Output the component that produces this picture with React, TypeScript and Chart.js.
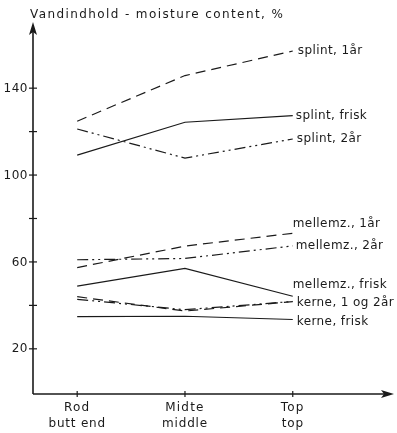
import React, { useEffect, useRef } from "react";
import { Chart, registerables } from "chart.js";

Chart.register(...registerables);

const categories = [
  ["Rod", "butt end"],
  ["Midte", "middle"],
  ["Top", "top"],
];
const yTicks = [20, 40, 60, 80, 100, 120, 140];
const yTickLabels = ["20", "", "60", "", "100", "", "140"];
const yTitle = "Vandindhold - moisture content, %";

const seriesNames = [
  "splint, 1år",
  "splint, frisk",
  "splint, 2år",
  "mellemz., 1år",
  "mellemz., 2år",
  "mellemz., frisk",
  "kerne, 1år",
  "kerne, 2år",
  "kerne, frisk",
];
const splint1 = [124.8, 145.8, 157.1];
const splintFrisk = [109.2, 124.3, 127.4];
const splint2 = [121.2, 107.8, 116.6];
const mellemz1 = [57.4, 67.3, 73.2];
const mellemz2 = [61.0, 61.6, 67.4];
const mellemzFrisk = [48.9, 57.0, 44.2];
const kerne1 = [44.0, 37.4, 41.7];
const kerne2 = [42.8, 38.0, 41.8];
const kerneFrisk = [34.8, 35.0, 33.5];
const endLabels = [
  "splint, 1år",
  "splint, frisk",
  "splint, 2år",
  "mellemz., 1år",
  "mellemz., 2år",
  "mellemz., frisk",
  "kerne, 1 og 2år",
  "",
  "kerne, frisk",
];

// styles (kept separate from data)
const DASH = [10, 6];
const DASHDOT = [11, 4, 2, 4, 2, 4];
const seriesDash = [DASH, [], DASHDOT, DASH, DASHDOT, [], DASH, DASHDOT, []];
const labelOffsets = [
  [5, 0],
  [3, 0],
  [4, 0],
  [0, -9],
  [3, 0],
  [0, -11],
  [4, 1],
  [0, 0],
  [4, 2],
];

const INK = "#1a1a1a";
const FONT = "12px 'DejaVu Sans'";

const overlay = {
  id: "overlay",
  afterDraw(chart: any) {
    const ctx = chart.ctx as CanvasRenderingContext2D;
    const xs = chart.scales.x;
    const ys = chart.scales.y;
    const ca = chart.chartArea;
    const x0 = ca.left;
    const y0 = ca.bottom;
    ctx.save();
    ctx.strokeStyle = INK;
    ctx.fillStyle = INK;
    ctx.lineWidth = 1.6;
    ctx.setLineDash([]);
    // y axis
    ctx.beginPath();
    ctx.moveTo(x0, y0);
    ctx.lineTo(x0, ca.top + 4);
    ctx.stroke();
    ctx.beginPath();
    ctx.moveTo(x0, ca.top - 1);
    ctx.lineTo(x0 - 4, ca.top + 12);
    ctx.lineTo(x0, ca.top + 9);
    ctx.lineTo(x0 + 4, ca.top + 12);
    ctx.closePath();
    ctx.fill();
    // x axis
    ctx.beginPath();
    ctx.moveTo(x0, y0);
    ctx.lineTo(ca.right - 4, y0);
    ctx.stroke();
    ctx.beginPath();
    ctx.moveTo(ca.right + 1, y0);
    ctx.lineTo(ca.right - 12, y0 - 4);
    ctx.lineTo(ca.right - 9, y0);
    ctx.lineTo(ca.right - 12, y0 + 4);
    ctx.closePath();
    ctx.fill();
    // y ticks
    ctx.lineWidth = 1.2;
    ctx.font = FONT;
    (ctx as any).letterSpacing = "0.5px";
    ctx.textAlign = "right";
    ctx.textBaseline = "middle";
    yTicks.forEach((v, i) => {
      const py = ys.getPixelForValue(v);
      ctx.beginPath();
      ctx.moveTo(x0 - 4, py);
      ctx.lineTo(x0 + 4, py);
      ctx.stroke();
      if (yTickLabels[i]) ctx.fillText(yTickLabels[i], x0 - 5, py + 0.5);
    });
    // x ticks + labels
    ctx.textAlign = "center";
    categories.forEach((lines, i) => {
      const px = xs.getPixelForValue(i);
      ctx.beginPath();
      ctx.moveTo(px, y0 - 3);
      ctx.lineTo(px, y0 + 3);
      ctx.stroke();
      (ctx as any).letterSpacing = "1.2px";
      ctx.fillText(lines[0], px, y0 + 14);
      (ctx as any).letterSpacing = "0.8px";
      ctx.fillText(lines[1], px, y0 + 30);
    });
    // title
    (ctx as any).letterSpacing = "1.4px";
    ctx.textAlign = "left";
    ctx.fillText(yTitle, x0 - 3, 15);
    // end labels
    (ctx as any).letterSpacing = "0.4px";
    chart.data.datasets.forEach((ds: any, i: number) => {
      const txt = endLabels[i];
      if (!txt) return;
      const last = ds.data[ds.data.length - 1];
      const px = xs.getPixelForValue(last.x);
      const py = ys.getPixelForValue(last.y);
      ctx.fillText(txt, px + labelOffsets[i][0], py + labelOffsets[i][1]);
    });
    ctx.restore();
  },
};

const allSeries = [
  splint1,
  splintFrisk,
  splint2,
  mellemz1,
  mellemz2,
  mellemzFrisk,
  kerne1,
  kerne2,
  kerneFrisk,
];

export default function App() {
  const ref = useRef<HTMLCanvasElement>(null);
  useEffect(() => {
    document.body.style.margin = "0";
    const chart = new Chart(ref.current!, {
      type: "line",
      data: {
        datasets: allSeries.map((vals, i) => ({
          label: seriesNames[i],
          data: vals.map((v, j) => ({ x: j, y: v })),
          borderColor: INK,
          borderWidth: 1.2,
          borderDash: seriesDash[i],
          pointRadius: 0,
          tension: 0,
          fill: false,
          clip: false as any,
        })),
      },
      options: {
        responsive: false,
        animation: false,
        layout: { padding: { left: 33, right: 4, top: 23, bottom: 39 } },
        plugins: { legend: { display: false }, tooltip: { enabled: false } },
        scales: {
          x: { type: "linear", min: -0.41, max: 2.93, display: false },
          y: { type: "linear", min: -0.8, max: 170, display: false },
        },
      },
      plugins: [overlay],
    });
    return () => chart.destroy();
  }, []);
  return (
    <div style={{ width: 397, height: 433, background: "#fff" }}>
      <canvas ref={ref} width={397} height={433} />
    </div>
  );
}
